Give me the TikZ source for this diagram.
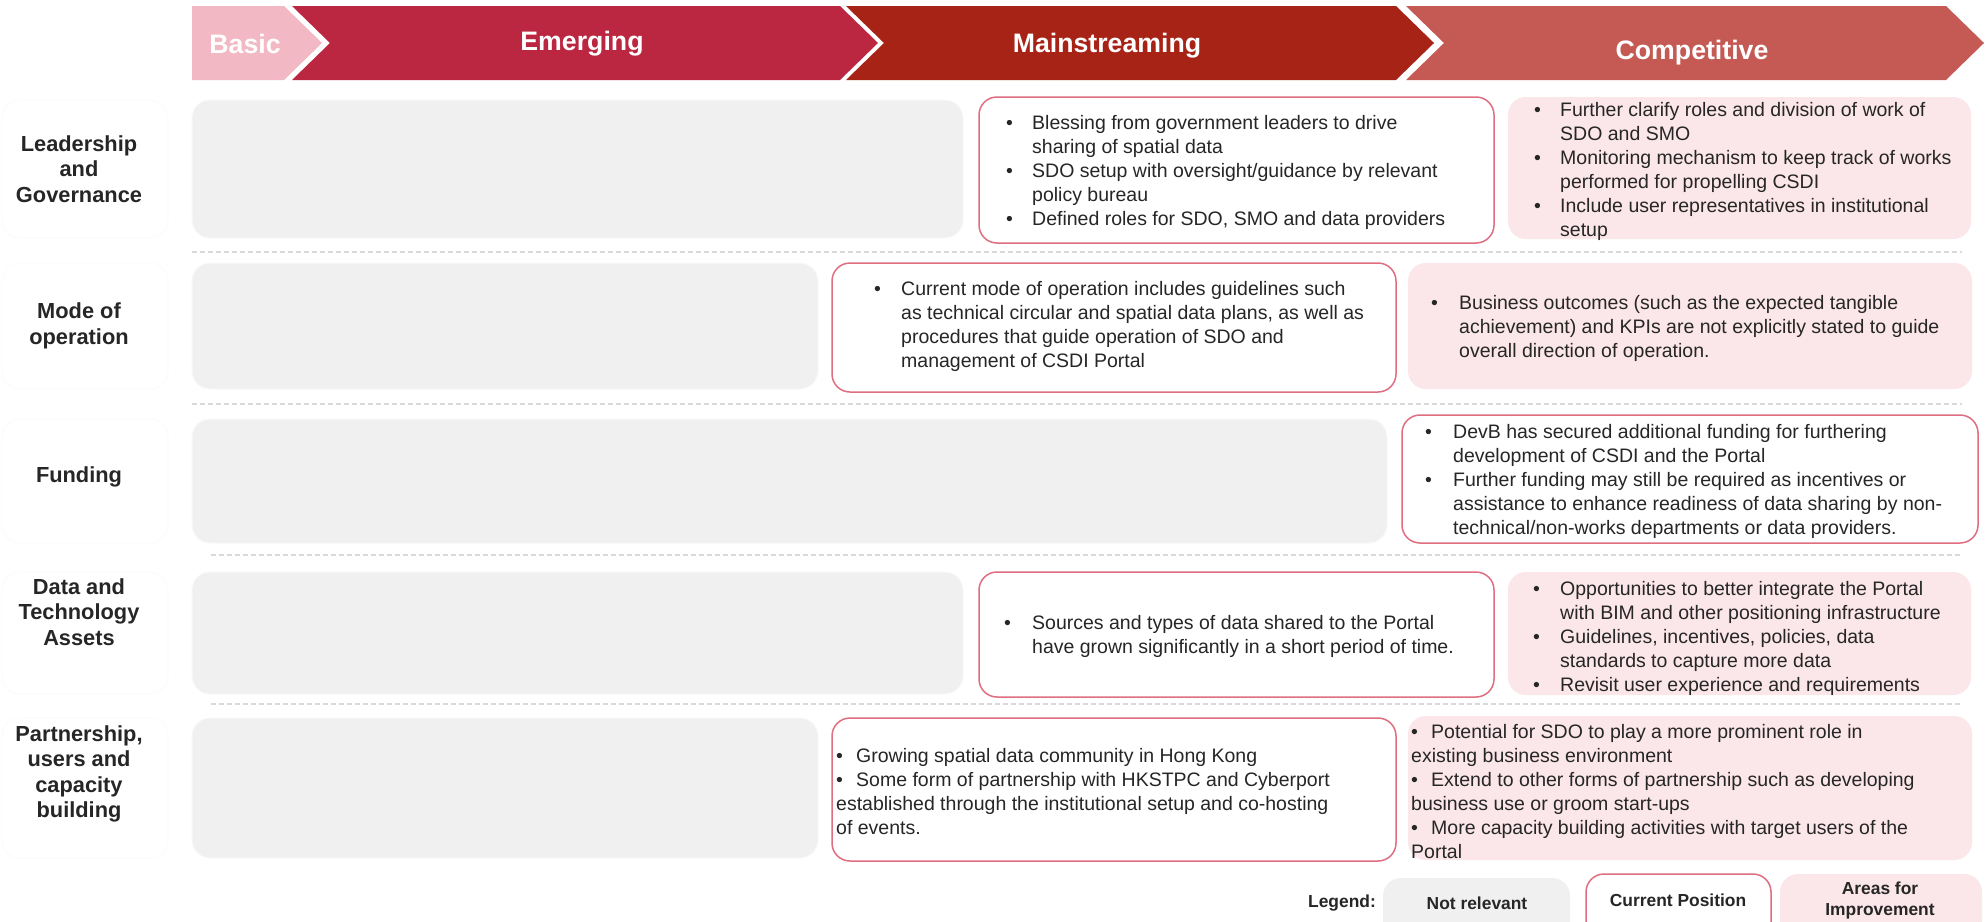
\documentclass[tikz,border=0pt]{standalone}
\usepackage{fontspec}
\setmainfont{Liberation Sans}
\definecolor{basicc}{HTML}{F2B8C3}
\definecolor{emergc}{HTML}{BB2641}
\definecolor{mainc}{HTML}{A62316}
\definecolor{compc}{HTML}{C55A55}
\definecolor{greyfill}{HTML}{F0F0F0}
\definecolor{curborder}{HTML}{DF6E80}
\definecolor{impfill}{HTML}{FBE6E9}
\definecolor{txt}{HTML}{262626}
\definecolor{sepc}{HTML}{D9D9D9}
\newcommand{\bul}[1]{\par\hangindent=#1pt\hangafter=1\noindent\makebox[#1pt][l]{\textbullet}}
\newcommand{\bulx}{\par\noindent\makebox[20pt][l]{\textbullet}}
\tikzset{
  hdr/.style={text=white, inner sep=0pt, font=\fontsize{26.7}{30}\selectfont\bfseries},
  panel/.style={anchor=north west, inner sep=0pt, outer sep=0pt, rounded corners=18pt},
  greybox/.style={panel, fill=greyfill, draw=white!60!greyfill, line width=1pt},
  curbox/.style={panel, fill=white, draw=curborder, line width=1.5pt},
  impbox/.style={panel, fill=impfill},
  lblbox/.style={panel, fill=white, draw=black!1, line width=1pt},
  sepline/.style={draw=sepc, line width=2.5pt, dash pattern=on 5pt off 3pt},
  rowlbl/.style={inner sep=0pt, align=center, text=txt, font=\fontsize{21.8}{25.5}\selectfont\bfseries},
  body/.style={anchor=base west, inner sep=0pt, text=txt, font=\fontsize{19.5}{24}\selectfont},
  leg/.style={inner sep=0pt, align=center, text=txt, font=\fontsize{17.4}{21}\selectfont\bfseries},
}
\begin{document}
\begin{tikzpicture}[x=1pt,y=-1pt]
\useasboundingbox (0,0) rectangle (1986,921);
\clip (0,0) rectangle (1986,921);
\fill[white] (0,0) rectangle (1986,921);
% header chevrons
\fill[basicc] (192,6) -- (284,6) -- (322,43) -- (284,80) -- (192,80) -- cycle;
\fill[emergc] (292,6) -- (840,6) -- (878,43) -- (840,80) -- (292,80) -- (330,43) -- cycle;
\fill[mainc] (846,6) -- (1396,6) -- (1434,43) -- (1396,80) -- (846,80) -- (884,43) -- cycle;
\fill[compc] (1406,6) -- (1946,6) -- (1984,43) -- (1946,80) -- (1406,80) -- (1444,43) -- cycle;
\node[hdr] (hbasic) at (245,44) {Basic};
\node[hdr] (hemerg) at (582,44) {Emerging};
\node[hdr] (hmain) at (1107,46) {Mainstreaming};
\node[hdr] (hcomp) at (1692,53) {Competitive};

% label backgrounds
\node[lblbox, minimum width=166pt, minimum height=138pt] (lb1) at (2,100) {};
\node[lblbox, minimum width=166pt, minimum height=126pt] (lb2) at (2,263) {};
\node[lblbox, minimum width=166pt, minimum height=124pt] (lb3) at (2,419) {};
\node[lblbox, minimum width=166pt, minimum height=122pt] (lb4) at (2,572) {};
\node[lblbox, minimum width=166pt, minimum height=140pt] (lb5) at (2,718) {};

% separators
\coordinate (s1a) at (192,252); \coordinate (s1b) at (1962,252);
\coordinate (s2a) at (192,404); \coordinate (s2b) at (1962,404);
\coordinate (s3a) at (211,555); \coordinate (s3b) at (1962,555);
\coordinate (s4a) at (211,704); \coordinate (s4b) at (1962,704);
\draw[sepline] (s1a) -- (s1b);
\draw[sepline] (s2a) -- (s2b);
\draw[sepline] (s3a) -- (s3b);
\draw[sepline] (s4a) -- (s4b);

% row labels
\node[rowlbl] (l1) at (79,169) {Leadership\\and\\Governance};
\node[rowlbl] (l2) at (79,326) {Mode of\\operation};
\node[rowlbl] (l3) at (79,477) {Funding};
\node[rowlbl] (l4) at (79,612) {Data and\\Technology\\Assets};
\node[rowlbl] (l5) at (79,774) {Partnership,\\users and\\capacity\\building};

% row 1
\node[greybox, minimum width=771pt, minimum height=138pt] (g1) at (192,100) {};
\node[curbox, minimum width=515pt, minimum height=146pt] (c1) at (979,97) {};
\node[impbox, minimum width=463pt, minimum height=142pt] (i1) at (1508,97) {};
\node[body] (c1t) at (1006,129) {\parbox[t]{480pt}{\raggedright
\bul{26}Blessing from government leaders to drive\newline sharing of spatial data
\bul{26}SDO setup with oversight/guidance by relevant\newline policy bureau
\bul{26}Defined roles for SDO, SMO and data providers}};
\node[body] (i1t) at (1534,116) {\parbox[t]{440pt}{\raggedright
\bul{26}Further clarify roles and division of work of\newline SDO and SMO
\bul{26}Monitoring mechanism to keep track of works\newline performed for propelling CSDI
\bul{26}Include user representatives in institutional\newline setup}};

% row 2
\node[greybox, minimum width=626pt, minimum height=126pt] (g2) at (192,263) {};
\node[curbox, minimum width=564pt, minimum height=129pt] (c2) at (832,263) {};
\node[impbox, minimum width=564pt, minimum height=126pt] (i2) at (1408,263) {};
\node[body] (c2t) at (874,295) {\parbox[t]{540pt}{\raggedright
\bul{27}Current mode of operation includes guidelines such\newline as technical circular and spatial data plans, as well as\newline procedures that guide operation of SDO and\newline management of CSDI Portal}};
\node[body] (i2t) at (1431,309) {\parbox[t]{540pt}{\raggedright
\bul{28}Business outcomes (such as the expected tangible\newline achievement) and KPIs are not explicitly stated to guide\newline overall direction of operation.}};

% row 3
\node[greybox, minimum width=1195pt, minimum height=124pt] (g3) at (192,419) {};
\node[curbox, minimum width=576pt, minimum height=128pt] (c3) at (1402,415) {};
\node[body] (c3t) at (1425,438) {\parbox[t]{550pt}{\raggedright
\bul{28}DevB has secured additional funding  for furthering\newline development of CSDI and the Portal
\bul{28}Further funding may still be required as incentives or\newline assistance to enhance readiness of data sharing by non-\newline technical/non-works departments or data providers.}};

% row 4
\node[greybox, minimum width=771pt, minimum height=122pt] (g4) at (192,572) {};
\node[curbox, minimum width=515pt, minimum height=125pt] (c4) at (979,572) {};
\node[impbox, minimum width=463pt, minimum height=123pt] (i4) at (1508,572) {};
\node[body] (c4t) at (1004,629) {\parbox[t]{480pt}{\raggedright
\bul{28}Sources and types of data shared to the Portal\newline have grown significantly in a short period of time.}};
\node[body] (i4t) at (1533,595) {\parbox[t]{440pt}{\raggedright
\bul{27}Opportunities to better integrate the Portal\newline with BIM and other positioning infrastructure
\bul{27}Guidelines, incentives, policies, data\newline standards to capture more data
\bul{27}Revisit user experience and requirements}};

% row 5
\node[greybox, minimum width=626pt, minimum height=140pt] (g5) at (192,718) {};
\node[curbox, minimum width=564pt, minimum height=143pt] (c5) at (832,718) {};
\node[impbox, minimum width=564pt, minimum height=144pt] (i5) at (1408,716) {};
\node[body] (c5t) at (836,762) {\parbox[t]{550pt}{\raggedright
\bulx Growing spatial data community in Hong Kong
\bulx Some form of partnership with HKSTPC and Cyberport\newline established through the institutional setup and co-hosting\newline of events.}};
\node[body] (i5t) at (1411,738) {\parbox[t]{560pt}{\raggedright
\bulx Potential for SDO to play a more prominent role in\newline existing business environment
\bulx Extend to other forms of partnership such as developing\newline business use or groom start-ups
\bulx More capacity building activities with target users of the\newline Portal}};

% legend
\node[leg, anchor=east] (legl) at (1376,903) {Legend:};
\node[greybox, draw=none, minimum width=187pt, minimum height=70pt] (lg1) at (1383,878) {};
\node[curbox, minimum width=185pt, minimum height=74pt] (lg2) at (1586,874) {};
\node[impbox, minimum width=202pt, minimum height=74pt] (lg3) at (1780,874) {};
\node[leg] (lg1t) at (1477,903) {Not relevant};
\node[leg] (lg2t) at (1678,900) {Current Position};
\node[leg] (lg3t) at (1880,900) {Areas for\\Improvement};
\end{tikzpicture}
\end{document}
